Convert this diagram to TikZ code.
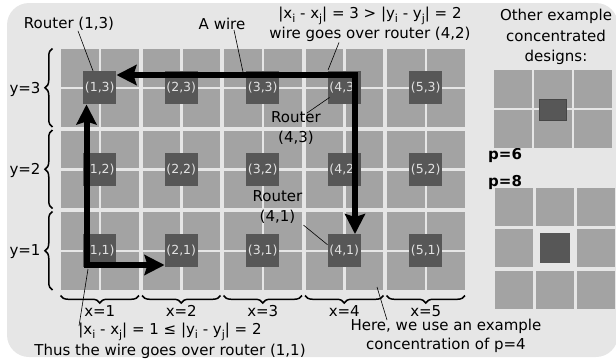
\documentclass[tikz,border=0pt]{standalone}
\usepackage{fontspec}
\setmainfont{DejaVu Sans}
\usetikzlibrary{arrows.meta,decorations.pathreplacing}
\definecolor{bg}{HTML}{E6E6E6}
\definecolor{tile}{HTML}{A3A3A3}
\definecolor{rout}{HTML}{575757}
\definecolor{rlab}{HTML}{E2E2E2}
\newcommand\sbx[1]{\raisebox{-0.45ex}{\fontsize{11}{11}\selectfont #1}}
\begin{document}
\begin{tikzpicture}[x=1pt,y=-1pt,
  lbl/.style={font=\fontsize{15}{20}\selectfont, align=center, inner sep=0pt},
  router/.style={fill=rout, minimum width=33pt, minimum height=33pt, inner sep=0pt, text=rlab, font=\fontsize{12.5}{13}\selectfont},
  wire/.style={line width=6pt, line join=miter, {Stealth[length=20pt,width=20pt,inset=3pt]}-{Stealth[length=20pt,width=20pt,inset=3pt]}},
  ptr/.style={line width=0.6pt},
  brc/.style={decorate, decoration={brace, amplitude=7.5pt}, line width=1.5pt}]
\useasboundingbox (0,0) rectangle (616,362);
\fill[bg, rounded corners=22pt] (7,3) rectangle (618,357);
% main grid
\foreach \i in {1,...,5} {
  \foreach \j in {1,2,3} {
    \pgfmathsetmacro\gx{61+(\i-1)*81.5}
    \pgfmathsetmacro\gy{49+(3-\j)*81.5}
    \foreach \a in {0,40} {
      \foreach \b in {0,40} {
        \fill[tile] (\gx+\a,\gy+\b) rectangle ++(37.5,37.5);
      }
    }
    \node[router] (r\i\j) at (\gx+38.75,\gy+38.75) {(\i,\j)};
  }
}
% braces and axis labels
\foreach \j in {1,2,3} {
  \pgfmathsetmacro\gy{49+(3-\j)*81.5}
  \draw[brc] (52.5,\gy+78) -- (52.5,\gy-0.5);
  \node[lbl] (ly\j) at (25,\gy+40) {y=\j};
}
\foreach \i in {1,...,5} {
  \pgfmathsetmacro\gx{61+(\i-1)*81.5}
  \draw[brc] (\gx+78,295.5) -- (\gx-0.5,295.5);
  \node[lbl] (lx\i) at (\gx+38.75,311) {x=\i};
}
% wires
\draw[wire] ([yshift=12.75pt]r13.east) -| ([xshift=10.75pt]r41.north);
\draw[wire] ([xshift=-13.25pt]r13.south) |- ([yshift=-14.25pt]r21.west);
% labels
\node[lbl] (lr13) at (69,24) {Router (1,3)};
\node[lbl] (lwire) at (222,24) {A wire};
\node[lbl] (lf1) at (370,16) {|x\sbx{i} - x\sbx{j}| = 3 > |y\sbx{i} - y\sbx{j}| = 2};
\node[lbl] (lf2) at (370,34) {wire goes over router (4,2)};
\node[lbl] (lr43) at (296,128) {Router\\(4,3)};
\node[lbl] (lr41) at (277.5,207.5) {Router\\(4,1)};
\node[lbl] (lb1) at (170,332) {|x\sbx{i} - x\sbx{j}| = 1 ≤ |y\sbx{i} - y\sbx{j}| = 2};
\node[lbl] (lb2) at (170,351) {Thus the wire goes over router (1,1)};
\node[lbl] (lhere) at (446,336) {Here, we use an example\\[-1.5pt]concentration of p=4};
\node[lbl, font=\fontsize{15}{20.5}\selectfont] (lother) at (556,37) {Other example\\concentrated\\designs:};
\node[lbl, anchor=west, font=\fontsize{15}{18}\selectfont\bfseries] (lp6) at (488,155) {p=6};
\node[lbl, anchor=west, font=\fontsize{15}{18}\selectfont\bfseries] (lp8) at (488,182) {p=8};
% pointer lines
\coordinate (wtop) at (243,72);
\coordinate (wbot) at (88,269);
\coordinate (gridend) at (377,287);
\draw[ptr] ([xshift=9pt]lr13.south) -- ([xshift=10pt]r13.north west);
\draw[ptr] ([xshift=12pt]lwire.south) -- (wtop);
\draw[ptr] ([xshift=-31pt,yshift=-1pt]lf2.south) -- ([xshift=0.5pt,yshift=1pt]r43.north west);
\draw[ptr] (307,113) -- ([xshift=2pt,yshift=7pt]r43.south west);
\draw[ptr] ([xshift=1pt,yshift=-1pt]lr41.south east) -- ([yshift=6pt]r41.west);
\draw[ptr] (79,326) -- (wbot);
\draw[ptr] (387,320) -- (gridend);
% other designs: p=6
\foreach \c in {494,534,574} {
  \foreach \r in {70,110} {
    \fill[tile] (\c,\r) rectangle ++(38,38);
  }
}
\node[fill=rout, draw=rout!80!black, line width=0.4pt, minimum width=27pt, minimum height=21pt, inner sep=0pt] (p6r) at (552.5,109.5) {};
% p=8
\foreach \c/\r in {495/188,536/188,577/188,495/229,577/229,495/271,536/271,577/271} {
  \fill[tile] (\c,\r) rectangle ++(38,37.5);
}
\node[fill=rout, minimum width=30pt, minimum height=30pt, inner sep=0pt] (p8r) at (555,248) {};
\end{tikzpicture}
\end{document}
